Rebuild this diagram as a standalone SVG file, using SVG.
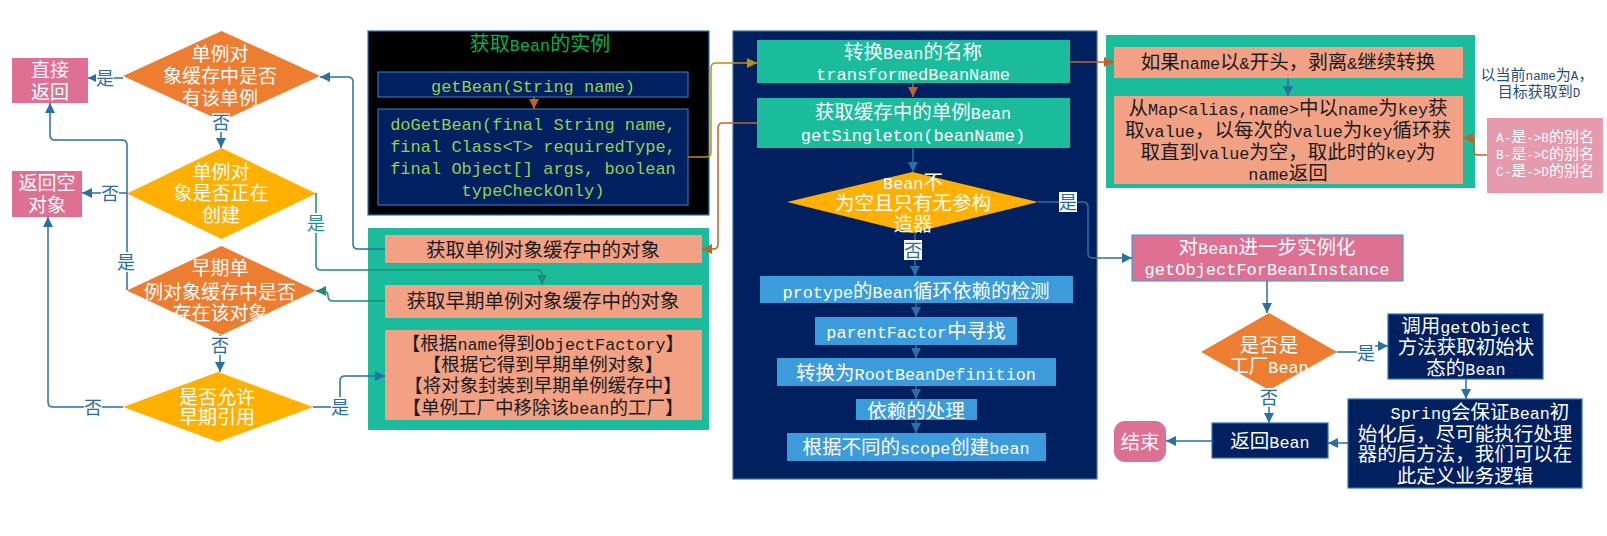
<svg xmlns="http://www.w3.org/2000/svg" width="1607" height="536" viewBox="0 0 1607 536">
<style>
.t{font-family:"Liberation Mono","Noto Sans CJK SC",monospace;font-size:19.5px;text-anchor:middle}
.t .m{font-size:16.8px}
.c{font-family:"Liberation Mono","Noto Sans CJK SC",monospace;font-size:17px;text-anchor:middle}
.s{font-family:"Liberation Mono","Noto Sans CJK SC",monospace;font-size:15px;text-anchor:middle}
.s .m{font-size:12.6px}
.w{fill:#ffffff}.k{fill:#1a1a1a}.g{fill:#92D050}
.lb{font-family:"Noto Sans CJK SC",sans-serif;font-size:18px;text-anchor:middle;fill:#2B6CA3}
.lbg{fill:#ffffff}
.orange{fill:#ED7D31}.amber{fill:#FFB000}.pink{fill:#DE7094}.teal{fill:#1ABC9C}.salmon{fill:#F2A185}
.navy{fill:#002060;stroke:#2E75B6;stroke-width:1.2}.mblue{fill:#3B9BDB}
.cb{fill:none;stroke:#2C6FA3;stroke-width:1.5;marker-end:url(#ab)}
.cr{fill:none;stroke:#C0632B;stroke-width:1.5;marker-end:url(#ar)}
.cg{fill:none;stroke:#1E8C6E;stroke-width:1.5;marker-end:url(#ag)}
.cy{fill:none;stroke:#BF9000;stroke-width:1.5;marker-end:url(#ay)}
</style>
<defs>
<marker id="ab" viewBox="0 0 10 10" refX="10" refY="5" markerWidth="10" markerHeight="10" markerUnits="userSpaceOnUse" orient="auto"><path d="M0,0L10,5L0,10z" fill="#2C6FA3"/></marker>
<marker id="ar" viewBox="0 0 10 10" refX="10" refY="5" markerWidth="10" markerHeight="10" markerUnits="userSpaceOnUse" orient="auto"><path d="M0,0L10,5L0,10z" fill="#C0632B"/></marker>
<marker id="ag" viewBox="0 0 10 10" refX="10" refY="5" markerWidth="10" markerHeight="10" markerUnits="userSpaceOnUse" orient="auto"><path d="M0,0L10,5L0,10z" fill="#1E8C6E"/></marker>
<marker id="ay" viewBox="0 0 10 10" refX="10" refY="5" markerWidth="10" markerHeight="10" markerUnits="userSpaceOnUse" orient="auto"><path d="M0,0L10,5L0,10z" fill="#BF9000"/></marker>
</defs>
<rect width="1607" height="536" fill="#ffffff"/>

<!-- containers -->
<g id="black-panel">
<rect x="368" y="31" width="341" height="184" fill="#000000" stroke="#2E75B6" stroke-width="1.2"/>
<text class="t" x="540" y="51" fill="#00B050" style="font-size:20px">获取<tspan class="m">Bean</tspan>的实例</text>
</g>
<g id="green-panel-left"><rect x="368" y="228" width="341" height="202" class="teal"/></g>
<g id="navy-panel"><rect x="733" y="31" width="364" height="448" fill="#002060" stroke="#41719C" stroke-width="1.2"/></g>
<g id="green-panel-right"><rect x="1106" y="35" width="369" height="153" class="teal"/></g>

<!-- left decision flow -->
<g id="direct-return">
<rect x="12" y="58" width="76" height="45" class="pink"/>
<text class="t w" x="50" y="77" style="font-size:19px">直接</text>
<text class="t w" x="50" y="99" style="font-size:19px">返回</text>
</g>
<g id="return-null">
<rect x="12" y="171" width="70" height="46" class="pink"/>
<text class="t w" x="47" y="190" style="font-size:19px">返回空</text>
<text class="t w" x="47" y="212" style="font-size:19px">对象</text>
</g>
<g id="d-singleton-cache">
<polygon points="123,76 221.5,31 320,76 221.5,121" class="orange"/>
<text class="t w" x="220" y="61" style="font-size:19px">单例对</text>
<text class="t w" x="220" y="83" style="font-size:19px">象缓存中是否</text>
<text class="t w" x="220" y="105" style="font-size:19px">有该单例</text>
</g>
<g id="d-in-creation">
<polygon points="127,193.5 221.5,148 316,193.5 221.5,239" class="amber"/>
<text class="t w" x="221" y="179" style="font-size:19px">单例对</text>
<text class="t w" x="221" y="200" style="font-size:19px">象是否正在</text>
<text class="t w" x="221" y="222" style="font-size:19px">创建</text>
</g>
<g id="d-early-cache">
<polygon points="127,290.5 221.5,246 316,290.5 221.5,335" class="orange"/>
<text class="t w" x="220" y="275" style="font-size:19px">早期单</text>
<text class="t w" x="220" y="299" style="font-size:19px">例对象缓存中是否</text>
<text class="t w" x="220" y="320" style="font-size:19px">存在该对象</text>
</g>
<g id="d-allow-early">
<polygon points="123,407 218,372 313,407 218,442" class="amber"/>
<text class="t w" x="217" y="404" style="font-size:19px">是否允许</text>
<text class="t w" x="217" y="424" style="font-size:19px">早期引用</text>
</g>

<!-- black panel nodes -->
<g id="getBean">
<rect x="378" y="72" width="310" height="25" class="navy"/>
<text class="c g" x="533" y="92">getBean(String name)</text>
</g>
<g id="doGetBean">
<rect x="378" y="109" width="310" height="96" class="navy"/>
<text class="c g" x="533" y="130">doGetBean(final String name,</text>
<text class="c g" x="533" y="152">final Class&lt;T&gt; requiredType,</text>
<text class="c g" x="533" y="174">final Object[] args, boolean</text>
<text class="c g" x="533" y="196">typeCheckOnly)</text>
</g>

<!-- green panel left nodes -->
<g id="get-singleton-obj">
<rect x="385" y="235" width="317" height="28" class="salmon"/>
<text class="t k" x="543" y="257">获取单例对象缓存中的对象</text>
</g>
<g id="get-early-obj">
<rect x="385" y="285" width="317" height="33" class="salmon"/>
<text class="t k" x="543" y="308">获取早期单例对象缓存中的对象</text>
</g>
<g id="early-steps">
<rect x="385" y="330" width="317" height="90" class="salmon"/>
<text class="t k" x="543" y="350" style="font-size:18.5px">【根据<tspan class="m">name</tspan>得到<tspan class="m">ObjectFactory</tspan>】</text>
<text class="t k" x="543" y="371" style="font-size:18.5px">【根据它得到早期单例对象】</text>
<text class="t k" x="543" y="392" style="font-size:18.5px">【将对象封装到早期单例缓存中】</text>
<text class="t k" x="543" y="414" style="font-size:18.5px">【单例工厂中移除该<tspan class="m">bean</tspan>的工厂】</text>
</g>

<!-- navy panel nodes -->
<g id="transformedBeanName">
<rect x="757" y="40" width="313" height="43" class="teal"/>
<text class="t w" x="913" y="59">转换<tspan class="m">Bean</tspan>的名称</text>
<text class="c w" x="913" y="80">transformedBeanName</text>
</g>
<g id="getSingleton">
<rect x="757" y="98" width="313" height="50" class="teal"/>
<text class="t w" x="913" y="119">获取缓存中的单例<tspan class="m">Bean</tspan></text>
<text class="c w" x="913" y="141">getSingleton(beanName)</text>
</g>
<g id="d-bean-not-null">
<polygon points="787,202 912.5,172 1038,202 912.5,233" class="amber"/>
<text class="t w" x="913" y="189"><tspan class="m">Bean</tspan>不</text>
<text class="t w" x="913" y="210">为空且只有无参构</text>
<text class="t w" x="913" y="231">造器</text>
</g>
<g id="prototype-check">
<rect x="760" y="276" width="313" height="27" class="mblue"/>
<text class="t w" x="916" y="298"><tspan class="m">protype</tspan>的<tspan class="m">Bean</tspan>循环依赖的检测</text>
</g>
<g id="parentFactor">
<rect x="815" y="317" width="202" height="28" class="mblue"/>
<text class="t w" x="916" y="338"><tspan class="m">parentFactor</tspan>中寻找</text>
</g>
<g id="rootBeanDefinition">
<rect x="777" y="358" width="279" height="28" class="mblue"/>
<text class="t w" x="916" y="380">转换为<tspan class="m">RootBeanDefinition</tspan></text>
</g>
<g id="depends-on">
<rect x="856" y="399" width="121" height="21" class="mblue"/>
<text class="t w" x="916" y="418">依赖的处理</text>
</g>
<g id="scope-create">
<rect x="787" y="433" width="259" height="28" class="mblue"/>
<text class="t w" x="916" y="454">根据不同的<tspan class="m">scope</tspan>创建<tspan class="m">bean</tspan></text>
</g>

<!-- right panel nodes -->
<g id="strip-ampersand">
<rect x="1114" y="47" width="349" height="31" class="salmon"/>
<text class="t k" x="1288" y="69">如果<tspan class="m">name</tspan>以<tspan class="m">&amp;</tspan>开头，剥离<tspan class="m">&amp;</tspan>继续转换</text>
</g>
<g id="alias-resolve">
<rect x="1114" y="96" width="349" height="88" class="salmon"/>
<text class="t k" x="1288" y="115">从<tspan class="m">Map&lt;alias,name&gt;</tspan>中以<tspan class="m">name</tspan>为<tspan class="m">key</tspan>获</text>
<text class="t k" x="1288" y="137">取<tspan class="m">value</tspan>，以每次的<tspan class="m">value</tspan>为<tspan class="m">key</tspan>循环获</text>
<text class="t k" x="1288" y="159">取直到<tspan class="m">value</tspan>为空，取此时的<tspan class="m">key</tspan>为</text>
<text class="t k" x="1288" y="180"><tspan class="m">name</tspan>返回</text>
</g>
<g id="note-target">
<text class="s" x="1537" y="80" fill="#1F4E79">以当前<tspan class="m">name</tspan>为<tspan class="m">A</tspan>，</text>
<text class="s" x="1539" y="97" fill="#1F4E79">目标获取到<tspan class="m">D</tspan></text>
</g>
<g id="alias-example">
<rect x="1487" y="118" width="116" height="75" fill="#E59AAE"/>
<text class="s w" x="1545" y="142"><tspan class="m">A-</tspan>是<tspan class="m">-&gt;B</tspan>的别名</text>
<text class="s w" x="1545" y="159"><tspan class="m">B-</tspan>是<tspan class="m">-&gt;C</tspan>的别名</text>
<text class="s w" x="1545" y="176"><tspan class="m">C-</tspan>是<tspan class="m">-&gt;D</tspan>的别名</text>
</g>
<g id="getObjectForBeanInstance">
<rect x="1132" y="235" width="271" height="46" class="pink" stroke="#3DA5D9" stroke-width="1.2"/>
<text class="t w" x="1267" y="254">对<tspan class="m">Bean</tspan>进一步实例化</text>
<text class="c w" x="1267" y="275">getObjectForBeanInstance</text>
</g>
<g id="d-factory-bean">
<polygon points="1201,352 1269,313 1337,352 1269,390" class="orange"/>
<text class="t w" x="1269" y="352">是否是</text>
<text class="t w" x="1269" y="373">工厂<tspan class="m">Bean</tspan></text>
</g>
<g id="call-getObject">
<rect x="1388" y="314" width="155" height="65" class="navy"/>
<text class="t w" x="1466" y="333">调用<tspan class="m">getObject</tspan></text>
<text class="t w" x="1466" y="354">方法获取初始状</text>
<text class="t w" x="1466" y="375">态的<tspan class="m">Bean</tspan></text>
</g>
<g id="post-process">
<rect x="1348" y="399" width="234" height="89" class="navy"/>
<text class="t w" x="1480" y="419"><tspan class="m">Spring</tspan>会保证<tspan class="m">Bean</tspan>初</text>
<text class="t w" x="1465" y="441">始化后，尽可能执行处理</text>
<text class="t w" x="1465" y="461">器的后方法，我们可以在</text>
<text class="t w" x="1465" y="483">此定义业务逻辑</text>
</g>
<g id="return-bean">
<rect x="1212" y="423" width="116" height="35" class="navy"/>
<text class="t w" x="1270" y="448">返回<tspan class="m">Bean</tspan></text>
</g>
<g id="end">
<rect x="1114" y="421" width="52" height="41" rx="11" class="pink"/>
<text class="t w" x="1140" y="449">结束</text>
</g>

<!-- connectors -->
<g id="connectors">
<path class="cb" d="M123,78 H88"/>
<path class="cb" d="M221,121 V148"/>
<path class="cb" d="M127,193 H82"/>
<path class="cb" d="M127,290 V145 Q127,140 122,140 H55 Q50,140 50,135 V103"/>
<path class="cb" d="M220,335 V372"/>
<path class="cb" d="M123,407 H53 Q48,407 48,402 V217"/>
<path class="cb" d="M313,407 H340 V381 Q340,376 345,376 H385"/>
<path class="cb" d="M385,249 H358 Q353,249 353,244 V82 Q353,77 348,77 H320"/>
<path class="cg" d="M316,193 V265 Q316,270 321,270 H537 Q542,270 542,275 V285"/>
<path class="cg" d="M385,301 H333 Q328,301 328,296 Q328,291 323,291 H316"/>
<path class="cr" d="M534,97 V109"/>
<path class="cy" d="M688,157 H706 Q711,157 711,152 V68 Q711,63 716,63 H757"/>
<path class="cr" d="M757,123 H723 Q718,123 718,128 V244 Q718,249 713,249 H702"/>
<path class="cr" d="M913,83 V97"/>
<path class="cb" d="M913,148 V172"/>
<path class="cb" d="M1038,202 H1083 Q1088,202 1088,207 V253 Q1088,258 1093,258 H1132"/>
<path class="cb" d="M915,233 V276"/>
<path class="cb" d="M916,303 V317"/>
<path class="cb" d="M916,345 V358"/>
<path class="cb" d="M916,386 V399"/>
<path class="cb" d="M916,420 V433"/>
<path class="cr" d="M1070,62 H1114"/>
<path class="cb" d="M1288,78 V96"/>
<path class="cr" d="M1487,155 H1478 Q1474,155 1474,151 V142 Q1474,138 1470,138 H1463"/>
<path class="cb" d="M1267,281 V313"/>
<path class="cb" d="M1337,352 H1368 V346 H1388"/>
<path class="cb" d="M1466,379 V399"/>
<path class="cb" d="M1348,443 H1328"/>
<path class="cb" d="M1269,390 V423"/>
<path class="cb" d="M1212,441 H1166"/>
</g>

<!-- connector labels -->
<g id="labels">
<rect class="lbg" x="96" y="68" width="18" height="20"/><text class="lb" x="105" y="85">是</text>
<rect class="lbg" x="212" y="113" width="18" height="19"/><text class="lb" x="221" y="129">否</text>
<rect class="lbg" x="101" y="183" width="18" height="20"/><text class="lb" x="110" y="200">否</text>
<rect class="lbg" x="117" y="252" width="18" height="20"/><text class="lb" x="126" y="269">是</text>
<rect class="lbg" x="211" y="336" width="18" height="19"/><text class="lb" x="220" y="352">否</text>
<rect class="lbg" x="84" y="397" width="18" height="20"/><text class="lb" x="93" y="414">否</text>
<rect class="lbg" x="331" y="397" width="18" height="20"/><text class="lb" x="340" y="414">是</text>
<rect class="lbg" x="307" y="213" width="18" height="20"/><text class="lb" x="316" y="230" style="fill:#2A8A8A">是</text>
<rect class="lbg" x="1059" y="192" width="18" height="20"/><text class="lb" x="1068" y="209">是</text>
<rect class="lbg" x="904" y="240" width="18" height="20"/><text class="lb" x="913" y="257">否</text>
<rect class="lbg" x="1357" y="343" width="18" height="20"/><text class="lb" x="1366" y="360">是</text>
<rect class="lbg" x="1260" y="388" width="18" height="19"/><text class="lb" x="1269" y="404">否</text>
</g>
</svg>
